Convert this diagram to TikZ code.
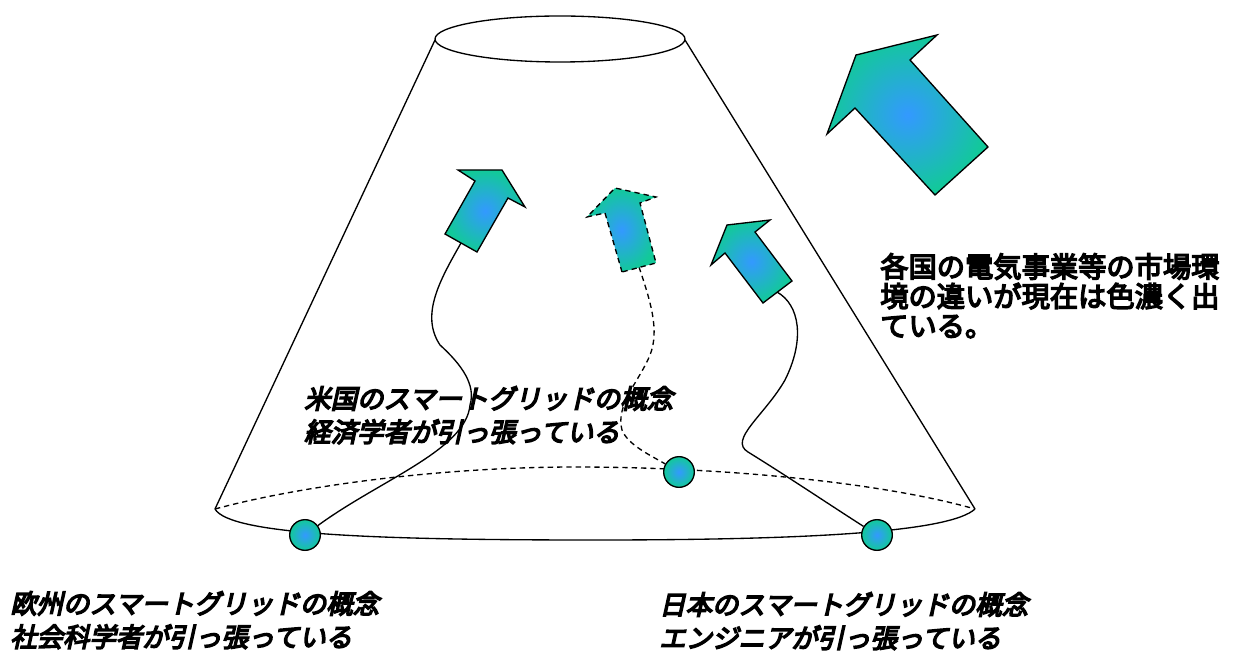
\documentclass[tikz,border=0pt]{standalone}
\usepackage{fontspec}
\newfontfamily\jpit{Noto Sans CJK JP}[FakeSlant=0.22,FakeBold=5.5]
\newfontfamily\jpb{Noto Sans CJK JP}[FakeBold=5]
\definecolor{tealc}{RGB}{18,201,153}
\definecolor{bluec}{RGB}{51,153,255}
\tikzset{
  thinline/.style={line width=1pt},
  dsh/.style={dash pattern=on 4pt off 3pt},
  arrowshape/.style={draw=black, line width=1pt, line join=miter, inner color=bluec, outer color=tealc},
  dotnode/.style={circle, draw=black, line width=1pt, minimum size=23pt, inner sep=0pt, inner color=bluec, outer color=tealc},
  lbl/.style={font=\jpit\fontsize{19.8}{25}\selectfont, align=left, anchor=north west, inner sep=0pt},
  lblr/.style={font=\jpb\fontsize{21.2}{22.2}\selectfont, align=left, anchor=north west, inner sep=0pt}
}
\begin{document}
\begin{tikzpicture}[x=0.75pt,y=-0.75pt]
\useasboundingbox (0,0) rectangle (1248,655);

% cone
\draw[thinline] (560,39) ellipse [x radius=125, y radius=23];
\coordinate (tl) at (435,40);
\coordinate (tr) at (685,40);
\coordinate (bl) at (215,509);
\coordinate (br) at (975,509);
\draw[thinline] (tl) -- (bl);
\draw[thinline] (tr) -- (br);
\draw[thinline] (bl) .. controls (230,535) and (380,540) .. (595,540)
                     .. controls (810,540) and (950,532) .. (br);
\draw[thinline,dsh] (bl) .. controls (300,486) and (440,467) .. (575,467)
                         .. controls (720,467) and (880,482) .. (br);

% arrow tails
\coordinate (tUS) at (461,243);
\coordinate (tMid) at (639,267);
\coordinate (tJP) at (777,292);

% dots
\node[dotnode] (eu) at (305,535) {};
\node[dotnode] (us) at (679,472) {};
\node[dotnode] (jp) at (877,535) {};

% connectors
\draw[thinline] (tUS) .. controls (440,280) and (420,315) .. (440,345)
                      .. controls (462,365) and (476,385) .. (470,405)
                      .. controls (466,450) and (380,480) .. (eu);
\draw[thinline,dsh] (tMid) .. controls (650,300) and (660,330) .. (650,355)
                          .. controls (640,380) and (615,405) .. (622,430)
                          .. controls (628,445) and (650,455) .. (us);
\draw[thinline] (tJP) .. controls (800,305) and (805,340) .. (785,380)
                      .. controls (765,415) and (728,440) .. (748,452)
                      .. controls (790,478) and (830,505) .. (jp);

% arrows
\draw[arrowshape] (445,234) -- (475,181) -- (458,170) -- (502,170) -- (525,207) -- (508,198) -- (477,252) -- cycle;
\draw[arrowshape,dsh] (622,272) -- (605,213) -- (587,217) -- (615,188) -- (656,197) -- (640,203) -- (656,263) -- cycle;
\draw[arrowshape] (763,303) -- (725,253) -- (711,265) -- (727,225) -- (770,220) -- (755,232) -- (792,281) -- cycle;
\draw[arrowshape] (935,195) -- (855,108) -- (827,134) -- (856,55) -- (937,35) -- (910,60) -- (988,147) -- cycle;

% texts
\node[lbl] (tus) at (304,386) {米国のスマートグリッドの概念\\経済学者が引っ張っている};
\node[lbl] (teu) at (10,591) {欧州のスマートグリッドの概念\\社会科学者が引っ張っている};
\node[lbl] (tjp) at (659,592) {日本のスマートグリッドの概念\\エンジニアが引っ張っている};
\node[lblr] (tmk) at (880,253) {各国の電気事業等の市場環\\境の違いが現在は色濃く出\\ている。};
\end{tikzpicture}
\end{document}
